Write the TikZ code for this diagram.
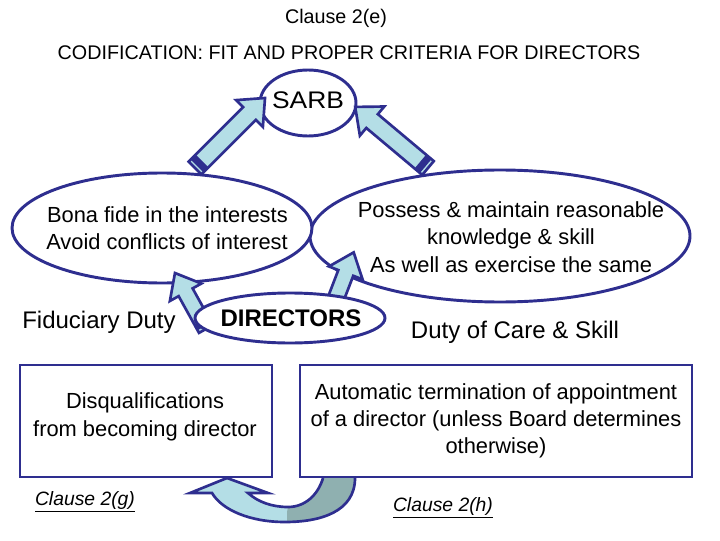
\documentclass[tikz,border=0pt]{standalone}
\usepackage{fontspec}
\setmainfont{Liberation Sans}
\usetikzlibrary{calc}
\definecolor{navy}{HTML}{2E2E8F}
\definecolor{lblue}{HTML}{B4DEE6}
\definecolor{gteal}{HTML}{8FB0B0}
\tikzset{
  shape line/.style={draw=navy,line width=2.2pt},
  txt/.style={font=\fontsize{16.4}{20.5}\selectfont,align=center,inner sep=0pt},
  big/.style={font=\fontsize{18}{22}\selectfont,inner sep=0pt},
  ttl/.style={font=\fontsize{14.8}{17}\selectfont,inner sep=0pt},
  clause/.style={font=\fontsize{14.5}{16}\selectfont\itshape,inner sep=0pt},
  barrow/.style={draw=navy,line width=2pt,fill=lblue,line join=miter}
}
\newcommand{\blockarrow}[5]{% x,y,angle,length,halfwidth
 \begin{scope}[shift={(#1,#2)},rotate=#3]
  \pgfmathsetmacro{\hb}{#4-22}
  \path[barrow] (0,-#5)--(\hb,-#5)--(\hb,-#5-10)--(#4,0)--(\hb,#5+10)--(\hb,#5)--(0,#5)--cycle;
  \fill[navy] (3,-#5)rectangle(10,#5);
 \end{scope}}
\begin{document}
\begin{tikzpicture}[x=0.75pt,y=0.75pt]
\useasboundingbox (0,0) rectangle (720,540);
\node[ttl] (t1) at (336,522) {Clause 2(e)};
\node[ttl] (t2) at (349,487) {CODIFICATION: FIT AND PROPER CRITERIA FOR DIRECTORS};
% ellipses
\draw[shape line,fill=white] (500,304) ellipse (190 and 66);
\draw[shape line,fill=white] (162,312) ellipse (150 and 55);
\draw[shape line,fill=white] (308,437) ellipse (48 and 33);
\node[big,xscale=1.1] (sarb) at (308,440) {SARB};
\node[txt,align=right,anchor=east] (l) at (288,312) {Bona fide in the interests\\Avoid conflicts of interest};
\node[txt] (r) at (511,303) {Possess \& maintain reasonable\\knowledge \& skill\\As well as exercise the same};
% arrows to SARB
\blockarrow{195}{372}{45}{99}{9}
\blockarrow{428}{372}{140}{95}{9}
% directors
\blockarrow{206}{211}{119}{64}{8}
\blockarrow{330}{226}{69}{66}{8}
\draw[shape line,fill=white] (290,222) ellipse (95 and 25);
\node[big,font=\fontsize{18}{22}\selectfont\bfseries] (dir) at (291,222) {DIRECTORS};
\node[big] (fd) at (99,218) {Fiduciary Duty};
\node[big] (dc) at (515,208) {Duty of Care \& Skill};
% boxes
\draw[shape line] (20,63) rectangle (272,175);
\draw[shape line] (300,63) rectangle (692,175);
\node[txt] (lb) at (145,123) {Disqualifications\\from becoming director};
\node[txt] (rb) at (496,119) {Automatic termination of appointment\\of a director (unless Board determines\\otherwise)};
\node[clause] (c1) at (85,38) {\underline{Clause 2(g)}};
\node[clause] (c2) at (443,32) {\underline{Clause 2(h)}};
% U-turn arrow
\begin{scope}
\path[fill=lblue] (355,62) .. controls (355,28) and (320,18) .. (285,18) .. controls (250,18) and (222,30) .. (212,47) -- (190,47) -- (227,62) -- (268,47) -- (248,47) .. controls (258,38) and (272,33) .. (288,33) .. controls (305,33) and (318,45) .. (323,62) -- cycle;
\clip (287,0) rectangle (400,70);
\path[fill=gteal] (355,62) .. controls (355,28) and (320,18) .. (285,18) -- (288,33) .. controls (305,33) and (318,45) .. (323,62) -- cycle;
\end{scope}
\draw[navy,line width=2pt,line join=miter] (355,62) .. controls (355,28) and (320,18) .. (285,18) .. controls (250,18) and (222,30) .. (212,47) -- (190,47) -- (227,62) -- (268,47) -- (248,47) .. controls (258,38) and (272,33) .. (288,33) .. controls (305,33) and (318,45) .. (323,62);
\end{tikzpicture}
\end{document}
